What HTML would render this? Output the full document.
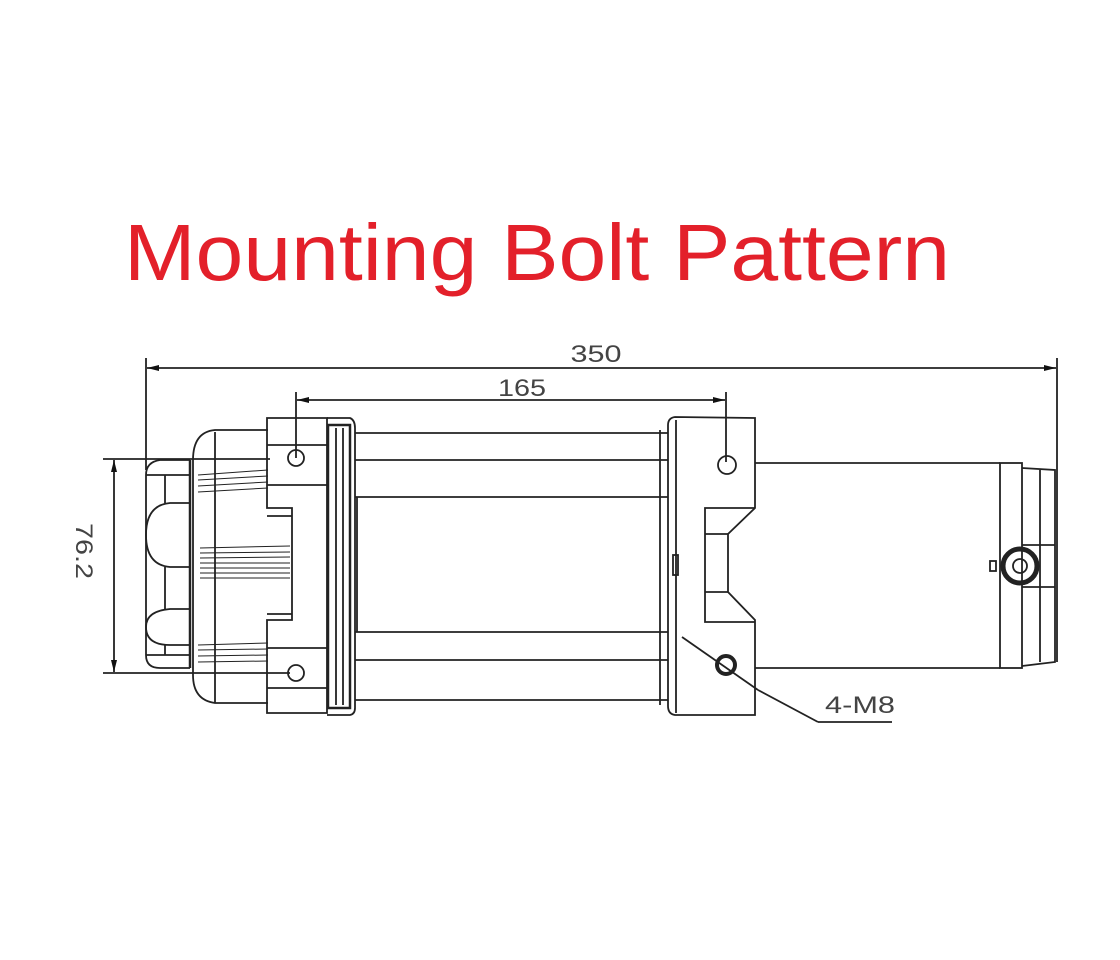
<!DOCTYPE html>
<html><head><meta charset="utf-8"><style>
html,body{margin:0;padding:0;background:#fff;width:1120px;height:960px;overflow:hidden}
</style></head><body>
<svg width="1120" height="960" viewBox="0 0 1120 960" xmlns="http://www.w3.org/2000/svg">
<defs>
<marker id="ar" viewBox="0 0 12 6" refX="12" refY="3" markerWidth="12" markerHeight="6" orient="auto-start-reverse" markerUnits="userSpaceOnUse"><path d="M0,0 L12,3 L0,6 Z" fill="#111"/></marker>
</defs>
<text x="124" y="280" font-family="Liberation Sans, sans-serif" font-size="80" fill="#e3202a" textLength="826" lengthAdjust="spacingAndGlyphs">Mounting Bolt Pattern</text>

<g stroke="#222" fill="none" stroke-width="1.8">
<line x1="146" y1="358" x2="146" y2="470"/>
<line x1="1057" y1="358" x2="1057" y2="662"/>
<line x1="147" y1="368" x2="1056" y2="368" marker-start="url(#ar)" marker-end="url(#ar)"/>
<line x1="296" y1="392" x2="296" y2="458"/>
<line x1="726" y1="392" x2="726" y2="462"/>
<line x1="297" y1="400" x2="725" y2="400" marker-start="url(#ar)" marker-end="url(#ar)"/>
<line x1="103" y1="459" x2="270" y2="459"/>
<line x1="103" y1="673" x2="290" y2="673"/>
<line x1="114" y1="460" x2="114" y2="672" marker-start="url(#ar)" marker-end="url(#ar)"/>

<path d="M190,460 L160,460 Q146,462 146,475 L146,655 Q146,668 160,668 L190,668"/>
<line x1="146" y1="475" x2="190" y2="475"/>
<line x1="146" y1="655" x2="190" y2="655"/>
<line x1="165" y1="475" x2="165" y2="503"/>
<line x1="165" y1="567" x2="165" y2="609"/>
<line x1="165" y1="645" x2="165" y2="655"/>
<path d="M190,503 L170,503 Q146,505 146,535 Q146,565 170,567 L190,567"/>
<path d="M190,609 L170,609 Q146,611 146,627 Q146,645 170,645 L190,645"/>
<line x1="190" y1="460" x2="190" y2="668" stroke-width="2.5"/>

<path d="M268,430 L215,430 Q193,432 193,460 L193,675 Q193,700 215,703 L268,703"/>
<line x1="215" y1="432" x2="215" y2="703"/>
<path d="M198,475 L268,470 M198,480 L268,476 M198,486 L268,482 M198,492 L268,488" stroke-width="1"/>
<path d="M200,548 L290,546 M200,553 L290,552 M200,558 L290,557 M200,563 L290,563 M200,568 L290,568 M200,573 L290,573 M200,578 L290,578" stroke-width="1"/>
<path d="M198,645 L268,643 M198,650 L268,649 M198,656 L268,655 M198,662 L268,661" stroke-width="1"/>

<path d="M267,418 L327,418 L327,713 L267,713 L267,620 L292,620 L292,508 L267,508 Z"/>
<line x1="267" y1="445" x2="327" y2="445"/>
<line x1="267" y1="485" x2="327" y2="485"/>
<line x1="267" y1="648" x2="327" y2="648"/>
<line x1="267" y1="688" x2="327" y2="688"/>
<line x1="267" y1="516" x2="292" y2="516"/>
<line x1="267" y1="614" x2="292" y2="614"/>
<circle cx="296" cy="458" r="8"/>
<circle cx="296" cy="673" r="8"/>

<path d="M327,418 L350,418 Q355,420 355,428 L355,708 Q355,714 350,715 L327,715"/>
<rect x="328" y="425" width="22" height="283" stroke-width="2.5"/>
<line x1="336" y1="428" x2="336" y2="705"/>
<line x1="343" y1="428" x2="343" y2="705"/>

<line x1="355" y1="433" x2="668" y2="433"/>
<line x1="355" y1="460" x2="668" y2="460"/>
<line x1="355" y1="497" x2="668" y2="497"/>
<line x1="355" y1="632" x2="668" y2="632"/>
<line x1="355" y1="660" x2="668" y2="660"/>
<line x1="355" y1="700" x2="668" y2="700"/>
<line x1="660" y1="430" x2="660" y2="705"/>
<line x1="357" y1="497" x2="357" y2="632"/>

<path d="M675,417 L755,418 L755,508 L728,534 L728,592 L755,620 L755,715 L675,715 Q668,714 668,706 L668,425 Q668,418 675,417 Z"/>
<line x1="676" y1="420" x2="676" y2="713"/>
<path d="M755,508 L705,508 L705,622 L755,622"/>
<line x1="705" y1="534" x2="728" y2="534"/>
<line x1="705" y1="592" x2="728" y2="592"/>
<rect x="673" y="555" width="5" height="20"/>
<circle cx="727" cy="465" r="9"/>
<circle cx="726" cy="665" r="9" stroke-width="4"/>

<line x1="755" y1="463" x2="1000" y2="463"/>
<line x1="755" y1="668" x2="1000" y2="668"/>
<rect x="1000" y="463" width="22" height="205"/>
<path d="M1022,468 L1055,470 L1055,662 L1022,666"/>
<line x1="1040" y1="470" x2="1040" y2="662"/>
<line x1="1022" y1="545" x2="1055" y2="545"/>
<line x1="1022" y1="587" x2="1055" y2="587"/>
<circle cx="1020" cy="566" r="17" stroke-width="5"/>
<circle cx="1020" cy="566" r="7"/>
<rect x="990" y="561" width="6" height="10"/>

<line x1="682" y1="637" x2="758" y2="690"/>
<line x1="758" y1="690" x2="818" y2="722"/>
<line x1="818" y1="722" x2="892" y2="722"/>
</g>

<g font-family="Liberation Sans, sans-serif" fill="#444" font-size="24">
<text x="596" y="362" text-anchor="middle" textLength="51" lengthAdjust="spacingAndGlyphs">350</text>
<text x="522" y="396" text-anchor="middle" textLength="48" lengthAdjust="spacingAndGlyphs">165</text>
<text transform="translate(76,551) rotate(90)" text-anchor="middle" textLength="56" lengthAdjust="spacingAndGlyphs">76.2</text>
<text x="825" y="713" textLength="70" lengthAdjust="spacingAndGlyphs">4-M8</text>
</g>
</svg>
</body></html>
